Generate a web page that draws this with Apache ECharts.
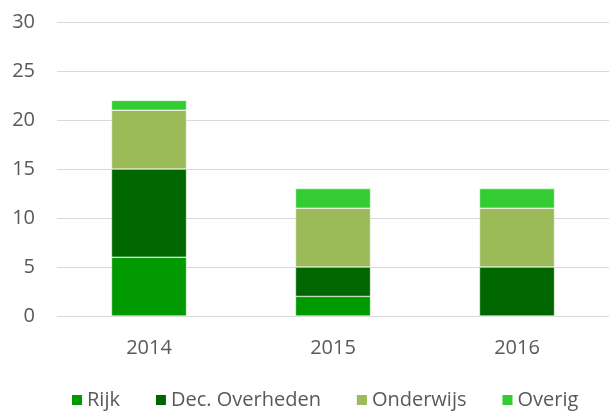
<!DOCTYPE html>
<html>
<head>
<meta charset="utf-8">
<script src="https://cdn.jsdelivr.net/npm/echarts@6/dist/echarts.min.js"></script>
<style>
html, body { margin: 0; padding: 0; background: #fff; }
#chart { width: 609px; height: 412px; }
</style>
</head>
<body>
<div id="chart"></div>
<script>
const years = ['2014', '2015', '2016'];
const rijk = [6, 2, 0];
const decOverheden = [9, 3, 5];
const onderwijs = [6, 6, 6];
const overig = [1, 2, 2];

const names = ['Rijk', 'Dec. Overheden', 'Onderwijs', 'Overig'];
const colors = ['#009900', '#006600', '#9BBB59', '#33CC33'];
const values = [rijk, decOverheden, onderwijs, overig];

const font = 'Open Sans';

const chart = echarts.init(document.getElementById('chart'));
chart.setOption({
  animation: false,
  textStyle: { fontFamily: font },
  legend: {
    top: 385,
    left: 65,
    padding: 5,
    itemWidth: 12,
    itemHeight: 12,
    itemGap: 34,
    icon: 'rect',
    textStyle: { fontSize: 20, color: '#595959', fontFamily: font, padding: [0, 0, 0, -1] },
    data: names
  },
  grid: { left: 57, right: -6, top: 22, bottom: 96 },
  xAxis: {
    type: 'category',
    data: years,
    axisLine: { show: false },
    axisTick: { show: false },
    axisLabel: { fontSize: 20, color: '#595959', margin: 22, fontFamily: font }
  },
  yAxis: {
    type: 'value',
    min: 0,
    max: 30,
    interval: 5,
    axisLine: { show: false },
    axisTick: { show: false },
    axisLabel: { fontSize: 20, color: '#595959', margin: 22, fontFamily: font },
    splitLine: { lineStyle: { color: '#D9D9D9', width: 1 } }
  },
  series: names.map((n, i) => ({
    name: n,
    type: 'bar',
    stack: 'total',
    barWidth: 75,
    itemStyle: { color: colors[i], borderColor: '#ffffff', borderWidth: 0.5 },
    data: values[i]
  }))
});
</script>
</body>
</html>
